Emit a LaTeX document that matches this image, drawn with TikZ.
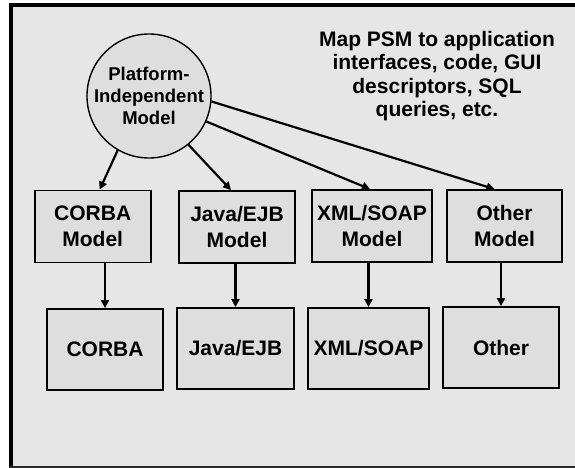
\documentclass[tikz,border=0pt]{standalone}
\usepackage{fontspec}
\setmainfont{Liberation Sans}
\usetikzlibrary{arrows.meta,calc}
\definecolor{bg}{HTML}{E6E6E6}
\definecolor{boxfill}{HTML}{DEDEDE}
\tikzset{
  modelbox/.style={draw=black, line width=1.8pt, fill=boxfill, inner sep=0pt, align=center,
    font=\fontsize{21}{26}\selectfont\bfseries},
  arr/.style={line width=2.2pt, -{Triangle[length=8pt,width=8pt]}},
  pimstyle/.style={circle, draw=black, line width=1.4pt, fill=boxfill, inner sep=0pt,
    minimum size=122pt, align=center, font=\fontsize{18.5}{22}\selectfont\bfseries},
}
\begin{document}
\begin{tikzpicture}[x=1pt,y=-1pt]
\useasboundingbox (0,0) rectangle (575,468);
\fill[bg] (9,3) rectangle (575,468);
\draw[line width=4pt] (11,468) -- (11,5) -- (575,5);
\draw[line width=1.5pt, draw=black!85] (9,467.2) -- (575,467.2);

\node[pimstyle] (pim) at (149,96) {Platform-\\Independent\\Model};

\node[align=center, font=\fontsize{21}{23.5}\selectfont\bfseries] (note) at (437,76)
  {Map PSM to application\\interfaces, code, GUI\\descriptors, SQL\\queries, etc.};

\node[modelbox, minimum width=116pt, minimum height=72pt] (cm) at (92.7,226.5) {CORBA\\Model};
\node[modelbox, minimum width=116pt, minimum height=72pt] (jm) at (237,227) {Java/EJB\\Model};
\node[modelbox, minimum width=120pt, minimum height=72pt] (xm) at (372,226) {XML/SOAP\\Model};
\node[modelbox, minimum width=115pt, minimum height=72pt] (om) at (504.5,226) {Other\\Model};

\node[modelbox, minimum width=116pt, minimum height=81pt] (c) at (105,349.5) {CORBA};
\node[modelbox, minimum width=117pt, minimum height=81pt] (j) at (235.5,348.5) {Java/EJB};
\node[modelbox, minimum width=121pt, minimum height=81pt] (x) at (368.5,348.5) {XML/SOAP};
\node[modelbox, minimum width=116pt, minimum height=81pt] (o) at (501,347.5) {Other};

\draw[arr] (pim.240) -- ([xshift=7pt]cm.north);
\draw[arr] (pim.309) -- ([xshift=-6pt]jm.north);
\draw[arr] (pim.336) -- ([xshift=-2pt]xm.north);
\draw[arr] (pim.355) -- ([xshift=-10pt]om.north);

\draw[arr] (cm.south -| c.north) -- (c.north);
\draw[arr] (jm.south -| j.north) -- (j.north);
\draw[arr] (xm.south -| x.north) -- (x.north);
\draw[arr] (om.south -| o.north) -- (o.north);
\end{tikzpicture}
\end{document}
